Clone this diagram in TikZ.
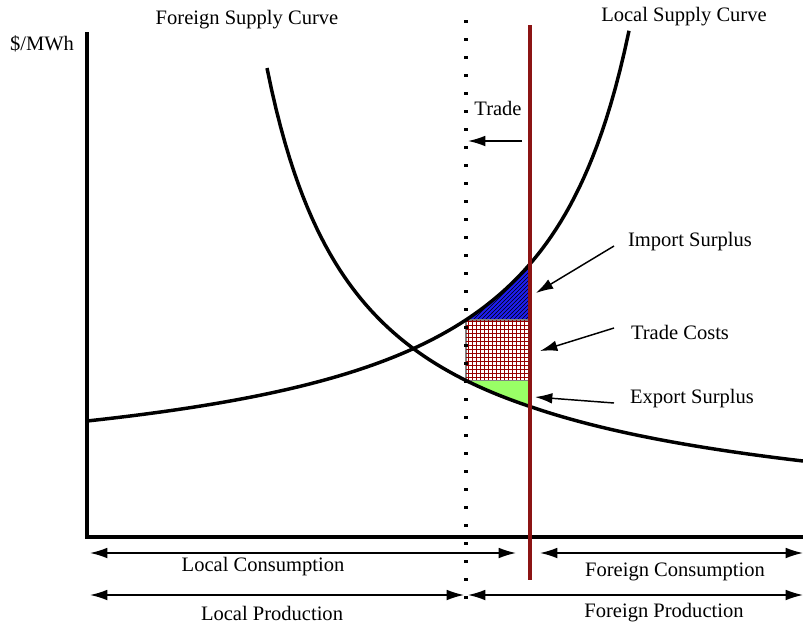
\documentclass[tikz,border=0pt]{standalone}
\usepackage{fontspec}
\setmainfont{Liberation Serif}
\usetikzlibrary{arrows.meta,patterns}
\definecolor{tradered}{RGB}{140,20,20}
\definecolor{gridred}{RGB}{150,0,0}
\definecolor{surplusgreen}{RGB}{153,255,102}
\definecolor{surplusblue}{RGB}{30,30,240}
\tikzset{declare function={locy(\t)=490.12-441/(7.25-\t/100);
                           fory(\t)=524.93-420.35/(\t/100-1.75)+(\t>530)*0.011*(\t-530);}}
\begin{document}
\begin{tikzpicture}[x=0.75pt,y=-0.75pt,
	every node/.style={font=\fontsize{15.4}{18}\selectfont},
	curve/.style={line width=2.6pt},
	pointer/.style={line width=1.1pt,-{Latex[length=13pt,width=8pt]}},
	span/.style={line width=1.1pt,{Latex[length=13pt,width=8pt]}-{Latex[length=13pt,width=8pt]}}]
		%%%%% START %%%%%
		\useasboundingbox (0,0) rectangle (803,629);
		
		% surplus and cost areas
		\fill[surplusblue] plot[domain=466:530,samples=30] (\x,{locy(\x)}) -- (530,320) -- cycle;
		\path[pattern=north east lines,pattern color=black] plot[domain=466:530,samples=30] (\x,{locy(\x)}) -- (530,320) -- cycle;
		\draw[gray,line width=0.8pt,fill=white,postaction={pattern=grid,pattern color=gridred}] (466,320) rectangle (530,380.5);
		\fill[surplusgreen] (466,380.5) -- (530,380.5) -- plot[domain=530:466,samples=30] (\x,{fory(\x)}) -- cycle;
		\draw[gray,line width=0.8pt] (466,380.5) -- (530,380.5);
		
		% axes
		\draw[line width=3.6pt] (87,32) -- (87,537) -- (803,537);
		
		% supply curves
		\draw[curve] plot[domain=87:629,samples=120] (\x,{locy(\x)});
		\draw[curve] plot[domain=267:803,samples=120] (\x,{fory(\x)});
		
		% trade lines
		\draw[line width=2.5pt,dash pattern=on 2.5pt off 11pt] (466,20) -- (466,600);
		\draw[tradered,line width=2.4pt] (530,25) -- (530,580);
		
		% labels
		\node (price) at (42,44) {\$/MWh};
		\node (forcurve) at (247,20) {Foreign Supply Curve};
		\node (loccurve) at (684,17) {Local Supply Curve};
		\node (trade) at (498,108) {Trade};
		\node (impsurp) at (690,242) {Import Surplus};
		\node (tcosts) at (680,332) {Trade Costs};
		\node (expsurp) at (692,399) {Export Surplus};
		\node (loccons) at (263,567) {Local Consumption};
		\node (forcons) at (675,572) {Foreign Consumption};
		\node (locprod) at (272,613) {Local Production};
		\node (forprod) at (664,613) {Foreign Production};
		
		% pointers
		\coordinate (tradeA) at (522,141);
		\coordinate (tradeB) at (468,141);
		\draw[pointer] (tradeA) -- (tradeB);
		\coordinate (impA) at (614,246);
		\coordinate (impB) at (536,293);
		\draw[pointer] (impA) -- (impB);
		\coordinate (tcA) at (614,328);
		\coordinate (tcB) at (540,351);
		\draw[pointer] (tcA) -- (tcB);
		\coordinate (expA) at (614,403);
		\coordinate (expB) at (535,397);
		\draw[pointer] (expA) -- (expB);
		
		% quantity spans
		\coordinate (lcA) at (90,553);
		\coordinate (lcB) at (516,553);
		\draw[span] (lcA) -- (lcB);
		\coordinate (fcA) at (540,553);
		\coordinate (fcB) at (803,553);
		\draw[span] (fcA) -- (fcB);
		\coordinate (lpA) at (90,595);
		\coordinate (lpB) at (464,595);
		\draw[span] (lpA) -- (lpB);
		\coordinate (fpA) at (468,595);
		\coordinate (fpB) at (803,595);
		\draw[span] (fpA) -- (fpB);
		
		%%%%% END %%%%%
\end{tikzpicture}
\end{document}
